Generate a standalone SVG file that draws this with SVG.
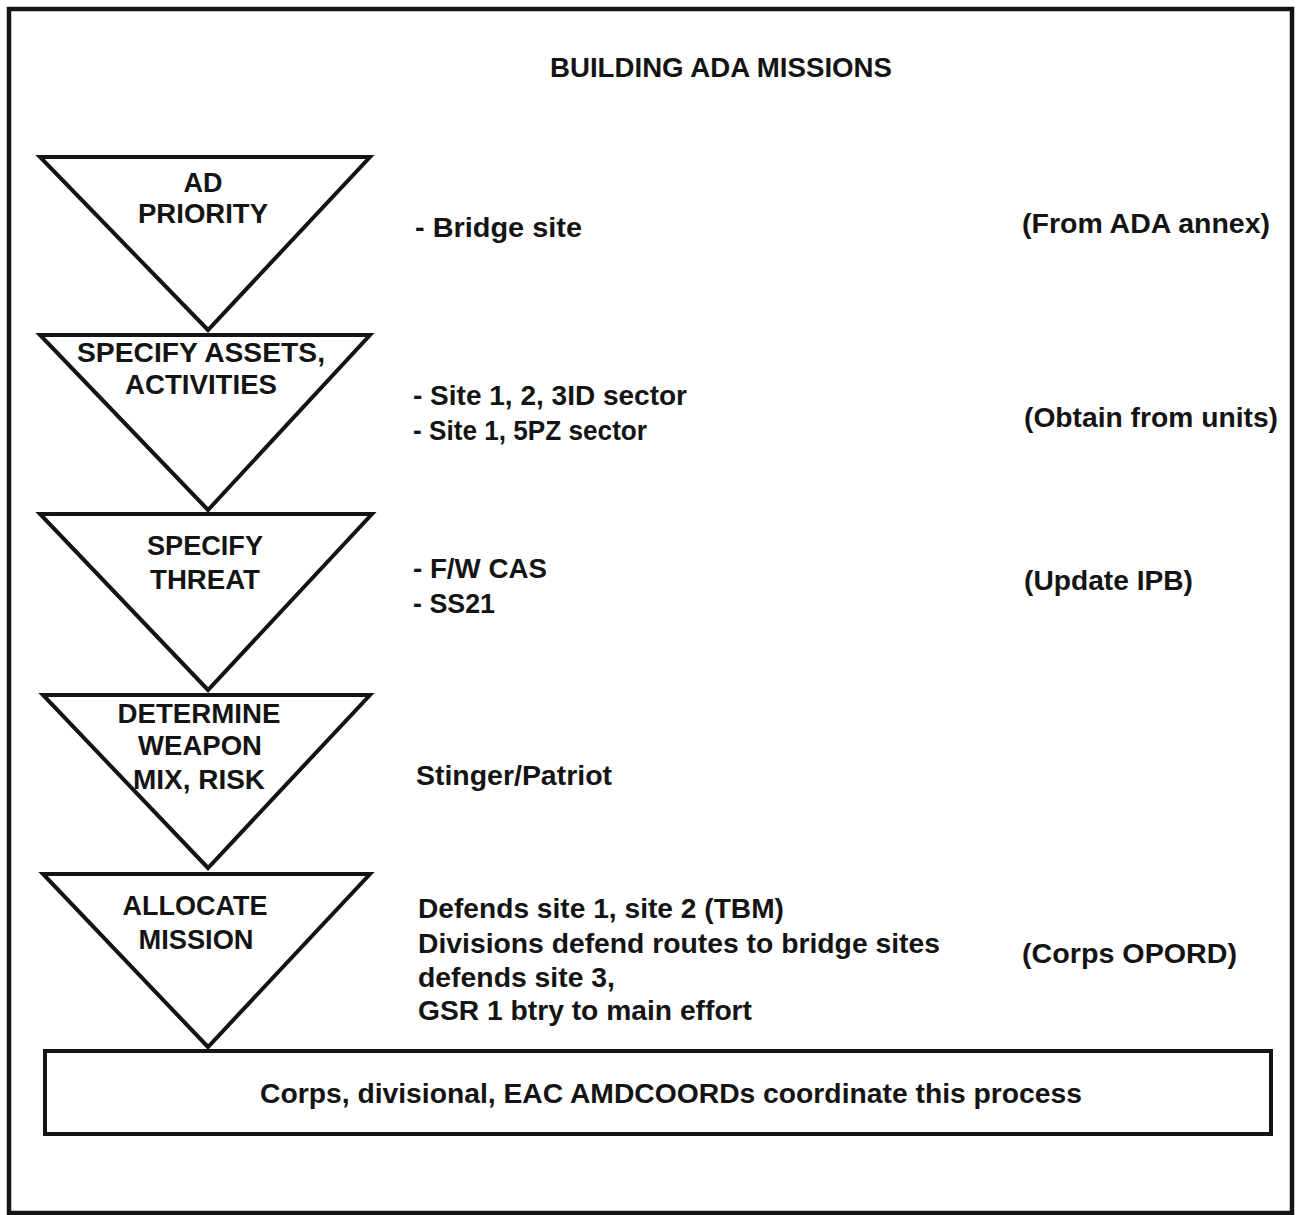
<svg xmlns="http://www.w3.org/2000/svg" width="1296" height="1215" viewBox="0 0 1296 1215">
<style>
.t{font-family:"Liberation Sans",Arial,sans-serif;font-weight:bold;font-size:27px;fill:#141414}
.c{text-anchor:middle}
.tri{fill:#fff;stroke:#141414;stroke-width:4;stroke-linejoin:miter}
.box{fill:#fff;stroke:#141414;stroke-width:4}
</style>
<rect x="0" y="0" width="1296" height="1215" fill="#fff"/>
<rect x="9" y="9" width="1283" height="1204" fill="none" stroke="#141414" stroke-width="4.5"/>
<text class="t" x="550" y="77" textLength="342" lengthAdjust="spacingAndGlyphs">BUILDING ADA MISSIONS</text>
<g id="connectors"/>
<g id="n1">
<polygon class="tri" points="40,157 370,157 208,330"/>
<text class="t c" x="203" y="192" textLength="39" lengthAdjust="spacingAndGlyphs">AD</text>
<text class="t c" x="203" y="223" textLength="130" lengthAdjust="spacingAndGlyphs">PRIORITY</text>
</g>
<g id="n2">
<polygon class="tri" points="40,335 370,335 208,510"/>
<text class="t c" x="201" y="362" textLength="248" lengthAdjust="spacingAndGlyphs">SPECIFY ASSETS,</text>
<text class="t c" x="201" y="394" textLength="152" lengthAdjust="spacingAndGlyphs">ACTIVITIES</text>
</g>
<g id="n3">
<polygon class="tri" points="40,514 372,514 208,690"/>
<text class="t c" x="205" y="555" textLength="116" lengthAdjust="spacingAndGlyphs">SPECIFY</text>
<text class="t c" x="205" y="589" textLength="110" lengthAdjust="spacingAndGlyphs">THREAT</text>
</g>
<g id="n4">
<polygon class="tri" points="43,695 370,695 208,868"/>
<text class="t c" x="199" y="723" textLength="163" lengthAdjust="spacingAndGlyphs">DETERMINE</text>
<text class="t c" x="200" y="755" textLength="124" lengthAdjust="spacingAndGlyphs">WEAPON</text>
<text class="t c" x="199" y="789" textLength="132" lengthAdjust="spacingAndGlyphs">MIX, RISK</text>
</g>
<g id="n5">
<polygon class="tri" points="43,874 370,874 208,1047"/>
<text class="t c" x="195" y="915" textLength="145" lengthAdjust="spacingAndGlyphs">ALLOCATE</text>
<text class="t c" x="196" y="949" textLength="115" lengthAdjust="spacingAndGlyphs">MISSION</text>
</g>
<g id="n6">
<rect class="box" x="45" y="1051" width="1226" height="83"/>
<text class="t" x="260" y="1103" textLength="822" lengthAdjust="spacingAndGlyphs">Corps, divisional, EAC AMDCOORDs coordinate this process</text>
</g>
<g id="notes">
<text class="t" x="415" y="237" textLength="167" lengthAdjust="spacingAndGlyphs">- Bridge site</text>
<text class="t" x="413" y="405" textLength="274" lengthAdjust="spacingAndGlyphs">- Site 1, 2, 3ID sector</text>
<text class="t" x="413" y="440" textLength="234" lengthAdjust="spacingAndGlyphs">- Site 1, 5PZ sector</text>
<text class="t" x="413" y="578" textLength="134" lengthAdjust="spacingAndGlyphs">- F/W CAS</text>
<text class="t" x="413" y="613" textLength="82" lengthAdjust="spacingAndGlyphs">- SS21</text>
<text class="t" x="416" y="785" textLength="196" lengthAdjust="spacingAndGlyphs">Stinger/Patriot</text>
<text class="t" x="418" y="918" textLength="366" lengthAdjust="spacingAndGlyphs">Defends site 1, site 2 (TBM)</text>
<text class="t" x="418" y="953" textLength="522" lengthAdjust="spacingAndGlyphs">Divisions defend routes to bridge sites</text>
<text class="t" x="418" y="987" textLength="197" lengthAdjust="spacingAndGlyphs">defends site 3,</text>
<text class="t" x="418" y="1020" textLength="334" lengthAdjust="spacingAndGlyphs">GSR 1 btry to main effort</text>
<text class="t" x="1022" y="233" textLength="248" lengthAdjust="spacingAndGlyphs">(From ADA annex)</text>
<text class="t" x="1024" y="427" textLength="254" lengthAdjust="spacingAndGlyphs">(Obtain from units)</text>
<text class="t" x="1024" y="590" textLength="169" lengthAdjust="spacingAndGlyphs">(Update IPB)</text>
<text class="t" x="1022" y="963" textLength="215" lengthAdjust="spacingAndGlyphs">(Corps OPORD)</text>
</g>
</svg>
